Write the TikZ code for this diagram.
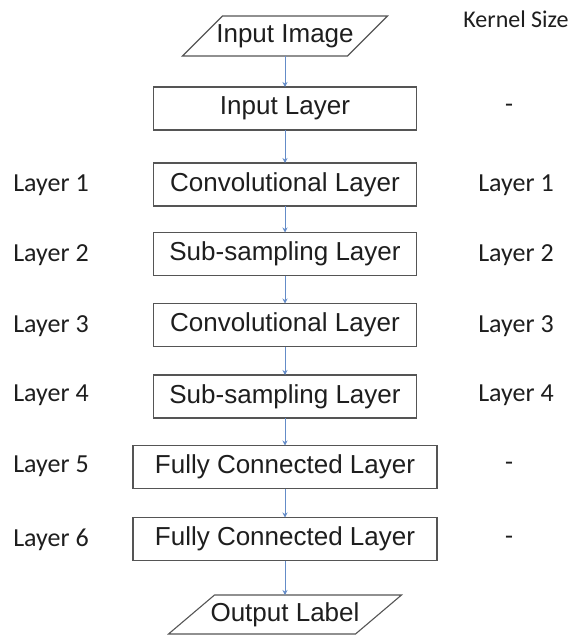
\documentclass[tikz,border=0pt]{standalone}
\usepackage{fontspec}
\setmainfont{Liberation Sans}
\newfontfamily\sidefont{Carlito}
\usetikzlibrary{arrows.meta}
\definecolor{arrowblue}{RGB}{100,140,200}
\definecolor{boxline}{RGB}{85,85,85}
\definecolor{txt}{RGB}{30,30,30}
\begin{document}
\begin{tikzpicture}[x=1pt,y=-1pt,
  every node/.style={inner sep=0pt, outer sep=0pt, text=txt, font=\fontsize{26}{30}\selectfont},
  layerbox/.style={draw=boxline, line width=1.1pt, fill=white, minimum width=263pt, minimum height=43pt},
  fcbox/.style={layerbox, minimum width=304pt},
  iobox/.style={minimum height=40pt},
  sidelabel/.style={font=\sidefont\fontsize{26}{30}\selectfont},
  flow/.style={draw=arrowblue, line width=0.8pt, -{Stealth[length=5pt,width=5pt]}}
]
\useasboundingbox (0,0) rectangle (577,639);
\fill[white] (0,0) rectangle (577,639);

% input / output parallelograms
\node[iobox, minimum width=165pt] (img) at (285,36) {Input Image};
\draw[boxline, line width=1.1pt] ([xshift=20pt]img.north west) -- ([xshift=20pt]img.north east)
  -- ([xshift=-20pt]img.south east) -- ([xshift=-20pt]img.south west) -- cycle;

\node[layerbox] (inl) at (285,108.5) {Input Layer};
\node[layerbox] (c1) at (285,184.5) {Convolutional Layer};
\node[layerbox] (s1) at (285,254) {Sub-sampling Layer};
\node[layerbox] (c2) at (285,325) {Convolutional Layer};
\node[layerbox] (s2) at (285,396.5) {Sub-sampling Layer};
\node[fcbox] (f1) at (285,467) {Fully Connected Layer};
\node[fcbox] (f2) at (285,539) {Fully Connected Layer};

\node[iobox, minimum width=187pt, minimum height=39pt] (out) at (285,614.5) {Output Label};
\draw[boxline, line width=1.1pt] ([xshift=23pt]out.north west) -- ([xshift=23pt]out.north east)
  -- ([xshift=-23pt]out.south east) -- ([xshift=-23pt]out.south west) -- cycle;

% connectors
\draw[flow] (img) -- (inl);
\draw[flow] (inl) -- (c1);
\draw[flow] (c1) -- (s1);
\draw[flow] (s1) -- (c2);
\draw[flow] (c2) -- (s2);
\draw[flow] (s2) -- (f1);
\draw[flow] (f1) -- (f2);
\draw[flow] (f2) -- (out);

% left labels
\node[sidelabel] (l1) at (51,185) {Layer 1};
\node[sidelabel] (l2) at (51,255) {Layer 2};
\node[sidelabel] (l3) at (51,326) {Layer 3};
\node[sidelabel] (l4) at (51,395) {Layer 4};
\node[sidelabel] (l5) at (51,466) {Layer 5};
\node[sidelabel] (l6) at (51,540) {Layer 6};

% right labels
\node[sidelabel, font=\sidefont\fontsize{24}{28}\selectfont] (ks) at (516,19) {Kernel Size};
\node[sidelabel] (k0) at (509,108) {-};
\node[sidelabel] (k1) at (516,185) {Layer 1};
\node[sidelabel] (k2) at (516,255) {Layer 2};
\node[sidelabel] (k3) at (516,326) {Layer 3};
\node[sidelabel] (k4) at (516,395) {Layer 4};
\node[sidelabel] (k5) at (509,466) {-};
\node[sidelabel] (k6) at (509,540) {-};
\end{tikzpicture}
\end{document}
